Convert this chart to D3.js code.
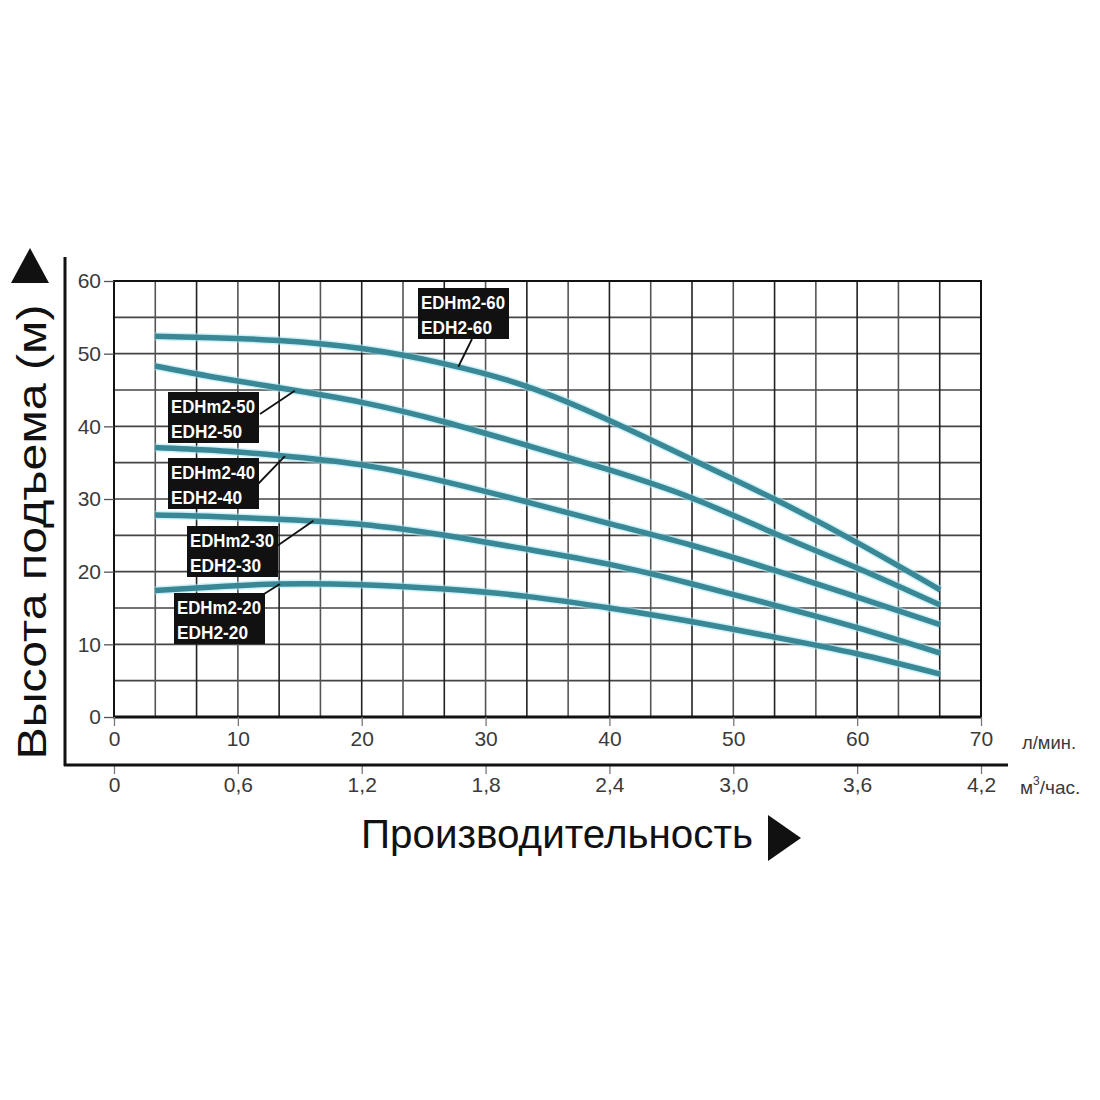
<!DOCTYPE html>
<html lang="ru">
<head>
    <meta charset="UTF-8">
    <title>EDH2 pump curves</title>
    <script src="https://d3js.org/d3.v7.min.js"></script>
    <style>
        body { margin: 0; background: #fff; }
        svg { display: block; }
        .tick-label { font-family: "Liberation Sans Narrow", "Liberation Sans", Arial, sans-serif; font-size: 21px; fill: #3a3a3a; }
        .unit { font-family: "Liberation Sans", Arial, sans-serif; font-size: 19px; fill: #3a3a3a; }
        .model { font-family: "Liberation Sans Narrow", "Liberation Sans", Arial, sans-serif; font-weight: bold; font-size: 19px; fill: #fff; }
    </style>
</head>
<body>
<div id="chart"></div>
<script>
    // flow points, l/min
    var flow = [3.3, 8, 13.3, 20, 26.7, 33.3, 40, 46.7, 53.3, 60, 66.7];

    // head, m (one array per pump)
    var head60 = [52.4, 52.2, 51.8, 50.7, 48.6, 45.5, 40.8, 35.4, 30.0, 24.0, 17.5];
    var head50 = [48.3, 46.8, 45.3, 43.3, 40.6, 37.4, 34.0, 30.1, 25.3, 20.5, 15.4];
    var head40 = [37.1, 36.7, 36.0, 34.7, 32.4, 29.6, 26.6, 23.6, 20.2, 16.5, 12.7];
    var head30 = [27.8, 27.6, 27.2, 26.5, 25.0, 23.1, 21.0, 18.3, 15.4, 12.3, 8.8];
    var head20 = [17.4, 17.9, 18.3, 18.2, 17.6, 16.6, 15.0, 13.1, 11.0, 8.7, 5.9];

    var models = ["60", "50", "40", "30", "20"];
    var heads = [head60, head50, head40, head30, head20];

    // where each label leader line touches its curve (l/min, m)
    var leaderFlow = [27.8, 14.6, 13.8, 16.1, 13.4];
    var leaderHead = [48.2, 44.9, 35.9, 27.0, 18.3];

    var flowTicks = [0, 10, 20, 30, 40, 50, 60, 70];
    var m3Ticks = ["0", "0,6", "1,2", "1,8", "2,4", "3,0", "3,6", "4,2"];
    var headTicks = [0, 10, 20, 30, 40, 50, 60];

    var svg = d3.select("#chart").append("svg")
        .attr("width", 1100)
        .attr("height", 1100);

    var x = d3.scaleLinear().domain([0, 70]).range([114, 981]);
    var xm3 = d3.scaleLinear().domain([0, 4.2]).range([114, 981]);
    var y = d3.scaleLinear().domain([0, 60]).range([717, 281]);

    // grid
    var grid = svg.append("g");
    grid.selectAll(".hgrid")
        .data(d3.range(5, 60, 5))
        .enter().append("line")
        .attr("x1", x(0)).attr("x2", x(70))
        .attr("y1", function(d) { return y(d); })
        .attr("y2", function(d) { return y(d); })
        .attr("stroke", "#444")
        .attr("stroke-width", 1.6);
    grid.selectAll(".vgrid")
        .data(d3.range(1, 21))
        .enter().append("line")
        .attr("x1", function(d) { return xm3(d * 0.2); })
        .attr("x2", function(d) { return xm3(d * 0.2); })
        .attr("y1", y(0)).attr("y2", y(60))
        .attr("stroke", function(d) { return d % 2 ? "#555" : "#222"; })
        .attr("stroke-width", 1.6);

    // plot frame
    svg.append("rect")
        .attr("x", x(0)).attr("y", y(60))
        .attr("width", x(70) - x(0)).attr("height", y(0) - y(60))
        .attr("fill", "none")
        .attr("stroke", "#111")
        .attr("stroke-width", 2);
    svg.append("line")
        .attr("x1", x(0) - 1).attr("x2", x(70) + 1)
        .attr("y1", y(0)).attr("y2", y(0))
        .attr("stroke", "#111").attr("stroke-width", 3);

    function styleAxis(g, color) {
        g.select(".domain").remove();
        g.selectAll("line").attr("stroke", color).attr("stroke-width", 1.3);
        g.selectAll("text").attr("class", "tick-label")
            .attr("font-size", null).attr("font-family", null).attr("fill", null);
    }

    // y axis
    var yAxis = svg.append("g")
        .attr("transform", "translate(" + x(0) + ",0)")
        .call(d3.axisLeft(y).tickValues(headTicks).tickSize(10).tickPadding(3));
    styleAxis(yAxis, "#555");

    // x axis, l/min
    var xAxis = svg.append("g")
        .attr("transform", "translate(0," + y(0) + ")")
        .call(d3.axisBottom(x).tickValues(flowTicks).tickSize(9).tickPadding(5));
    styleAxis(xAxis, "#777");

    // x axis, m3/h
    var x2Axis = svg.append("g")
        .attr("transform", "translate(0,765)")
        .call(d3.axisBottom(xm3).tickValues([0, 0.6, 1.2, 1.8, 2.4, 3.0, 3.6, 4.2])
            .tickFormat(function(d, i) { return m3Ticks[i]; })
            .tickSize(9).tickPadding(3));
    styleAxis(x2Axis, "#777");

    // outer frame lines
    svg.append("line")
        .attr("x1", 65).attr("x2", 65).attr("y1", 257).attr("y2", 766)
        .attr("stroke", "#111").attr("stroke-width", 3);
    svg.append("line")
        .attr("x1", 64).attr("x2", 1008).attr("y1", 765).attr("y2", 765)
        .attr("stroke", "#111").attr("stroke-width", 3);

    // units
    svg.append("text").attr("class", "unit")
        .attr("x", 1022).attr("y", 749)
        .attr("textLength", 54).attr("lengthAdjust", "spacingAndGlyphs")
        .text("л/мин.");
    var u2 = svg.append("text").attr("class", "unit")
        .attr("x", 1020).attr("y", 794);
    u2.append("tspan").text("м");
    u2.append("tspan").attr("dy", -9).attr("font-size", 12).text("3");
    u2.append("tspan").attr("dy", 9).text("/час.");

    // axis titles
    svg.append("text")
        .attr("transform", "translate(46,532) rotate(-90)")
        .attr("text-anchor", "middle")
        .attr("font-family", "'Liberation Sans', Arial, sans-serif")
        .attr("font-size", 40)
        .attr("fill", "#111")
        .attr("textLength", 455)
        .attr("lengthAdjust", "spacingAndGlyphs")
        .text("Высота подъема (м)");
    svg.append("path")
        .attr("d", "M30,248 L49,283 L11,283 Z")
        .attr("fill", "#111");

    svg.append("text")
        .attr("x", 557).attr("y", 848)
        .attr("text-anchor", "middle")
        .attr("font-family", "'Liberation Sans', Arial, sans-serif")
        .attr("font-size", 41)
        .attr("fill", "#111")
        .attr("textLength", 392)
        .attr("lengthAdjust", "spacingAndGlyphs")
        .text("Производительность");
    svg.append("path")
        .attr("d", "M768,815 L801,838 L768,861 Z")
        .attr("fill", "#111");

    // curves
    var line = d3.line()
        .x(function(d) { return x(d[0]); })
        .y(function(d) { return y(d[1]); })
        .curve(d3.curveNatural);

    var curves = svg.append("g");
    heads.forEach(function(h) {
        var pts = flow.map(function(f, i) { return [f, h[i]]; });
        curves.append("path")
            .attr("d", line(pts))
            .attr("fill", "none")
            .attr("stroke", "#a6e8f4")
            .attr("stroke-opacity", 0.55)
            .attr("stroke-width", 8.5);
        curves.append("path")
            .attr("d", line(pts))
            .attr("fill", "none")
            .attr("stroke", "#3a8796")
            .attr("stroke-width", 5.5);
    });

    // model labels: box top-left corner and leader start (layout)
    var boxes = [
        { x: 418, y: 288, lx: 472, ly: 339 },
        { x: 168, y: 392, lx: 260, ly: 414 },
        { x: 168, y: 458, lx: 258, ly: 484 },
        { x: 187, y: 526, lx: 277, ly: 546 },
        { x: 174, y: 593, lx: 264, ly: 594 }
    ];

    var labels = svg.append("g");
    models.forEach(function(m, i) {
        var b = boxes[i];
        labels.append("line")
            .attr("x1", b.lx).attr("y1", b.ly)
            .attr("x2", x(leaderFlow[i])).attr("y2", y(leaderHead[i]))
            .attr("stroke", "#111").attr("stroke-width", 1.8);
        labels.append("rect")
            .attr("x", b.x).attr("y", b.y)
            .attr("width", 91).attr("height", 51)
            .attr("fill", "#111");
        labels.append("text").attr("class", "model")
            .attr("x", b.x + 3).attr("y", b.y + 21)
            .attr("textLength", 84).attr("lengthAdjust", "spacingAndGlyphs")
            .text("EDHm2-" + m);
        labels.append("text").attr("class", "model")
            .attr("x", b.x + 3).attr("y", b.y + 46)
            .attr("textLength", 71).attr("lengthAdjust", "spacingAndGlyphs")
            .text("EDH2-" + m);
    });
</script>
</body>
</html>
